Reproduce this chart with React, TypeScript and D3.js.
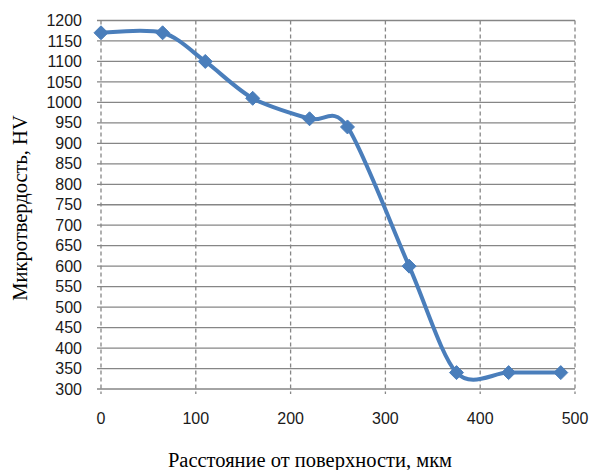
import React from "react";
import * as d3 from "d3";

const distances = [0, 65, 110, 160, 220, 260, 325, 375, 430, 485];
const hardness = [1170, 1170, 1100, 1010, 960, 940, 600, 340, 340, 340];
const xTicks = [0, 100, 200, 300, 400, 500];
const yTicks = d3.range(300, 1201, 50);

export default function App() {
  const W = 589, H = 470;
  const left = 101, right = 575, top = 20.5, bottom = 389;
  const x = d3.scaleLinear().domain([0, 500]).range([left, right]);
  const y = d3.scaleLinear().domain([300, 1200]).range([bottom, top]);
  const line = d3
    .line<number>()
    .x((_, i) => x(distances[i]))
    .y((d) => y(d))
    .curve(d3.curveCardinal.tension(0.1));
  const path = line(hardness) || "";
  const r = 7;
  const diamond = `M0,${-r}L${r},0L0,${r}L${-r},0Z`;
  return (
    <svg width={W} height={H} style={{ position: "absolute", left: 0, top: 0, background: "#fff" }}>
      {yTicks.map((t) => (
        <line key={"h" + t} x1={left - 4} x2={right} y1={y(t)} y2={y(t)} stroke="#868686" strokeWidth={1.3} />
      ))}
      {xTicks.map((t) => (
        <line key={"v" + t} x1={x(t)} x2={x(t)} y1={top} y2={bottom + 5} stroke="#868686" strokeWidth={1.3} strokeDasharray="4,3" />
      ))}
      {yTicks.map((t) => (
        <text key={"yl" + t} x={82} y={y(t)} dy="0.35em" textAnchor="end" fontFamily="Liberation Sans, Arial, sans-serif" fontSize={16} fill="#1a1a1a">
          {t}
        </text>
      ))}
      {xTicks.map((t) => (
        <text key={"xl" + t} x={x(t)} y={418} dy="0.35em" textAnchor="middle" fontFamily="Liberation Sans, Arial, sans-serif" fontSize={16} fill="#1a1a1a">
          {t}
        </text>
      ))}
      <path d={path} fill="none" stroke="#4a7ebb" strokeWidth={4} />
      {hardness.map((v, i) => (
        <path key={"m" + i} d={diamond} transform={`translate(${x(distances[i])},${y(v)})`} fill="#4a7ebb" stroke="#4a7ebb" strokeWidth={1} />
      ))}
      <text x={310} y={460} dy="0.35em" textAnchor="middle" fontFamily="Liberation Serif, Times New Roman, serif" fontSize={20.5} fill="#000">
        Расстояние от поверхности, мкм
      </text>
      <text transform={`translate(20,208) rotate(-90)`} dy="0.35em" textAnchor="middle" fontFamily="Liberation Serif, Times New Roman, serif" fontSize={20.5} fill="#000">
        Микротвердость, HV
      </text>
    </svg>
  );
}
